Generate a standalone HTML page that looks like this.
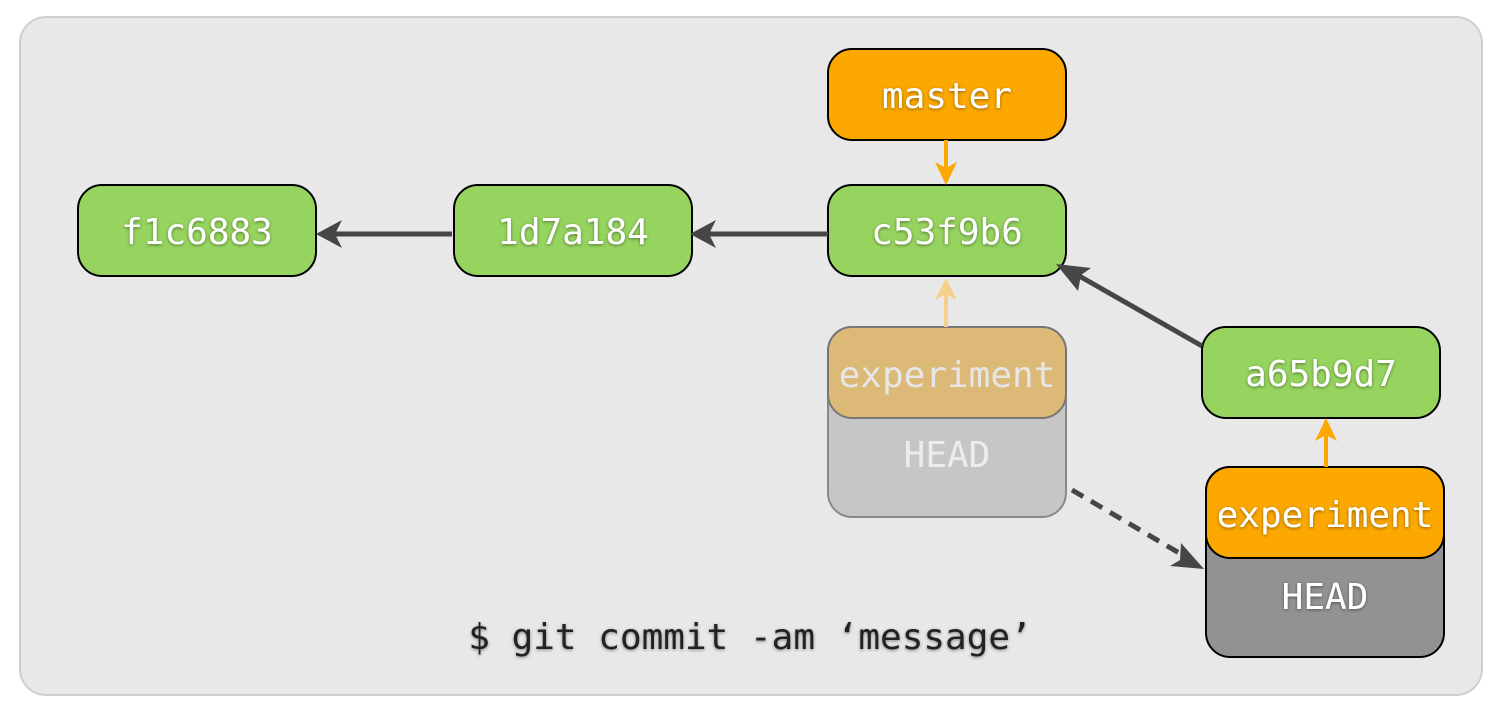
<!DOCTYPE html>
<html><head><style>
html,body{margin:0;padding:0;background:#fff;}
svg{display:block}
text{font-family:"DejaVu Sans Mono","Liberation Mono",monospace;}
.w{fill:#fff;font-size:36px;text-anchor:middle;filter:url(#sh);}
</style></head><body>
<svg width="1502" height="714" viewBox="0 0 1502 714" xmlns="http://www.w3.org/2000/svg">
<defs>
<filter id="sh" x="-20%" y="-20%" width="140%" height="140%"><feDropShadow dx="0" dy="1" stdDeviation="1.5" flood-color="#000" flood-opacity="0.45"/></filter>
</defs>
<rect x="20" y="17" width="1462" height="678" rx="26" fill="#e8e8e8" stroke="#cfcfcf" stroke-width="2"/>

<rect x="78" y="185" width="238" height="91" rx="24" fill="#96d45f" stroke="#000" stroke-width="2"/>
<text class="w" x="197" y="244">f1c6883</text>
<rect x="454" y="185" width="238" height="91" rx="24" fill="#96d45f" stroke="#000" stroke-width="2"/>
<text class="w" x="573" y="244">1d7a184</text>
<rect x="828" y="185" width="238" height="91" rx="24" fill="#96d45f" stroke="#000" stroke-width="2"/>
<text class="w" x="947" y="244">c53f9b6</text>
<rect x="828" y="49" width="238" height="91" rx="24" fill="#fca800" stroke="#000" stroke-width="2"/>
<text class="w" x="947" y="108">master</text>
<rect x="1202" y="327" width="238" height="91" rx="24" fill="#96d45f" stroke="#000" stroke-width="2"/>
<text class="w" x="1321" y="386">a65b9d7</text>

<rect x="828" y="327" width="238" height="190" rx="24" fill="#c6c6c6" stroke="#888" stroke-width="2"/>
<rect x="828" y="327" width="238" height="91" rx="24" fill="#dcb976" stroke="#777" stroke-width="2"/>
<text x="947" y="387" font-size="36" fill="#e6e6e6" text-anchor="middle">experiment</text>
<text x="947" y="467" font-size="36" fill="#ececec" text-anchor="middle">HEAD</text>

<rect x="1206" y="467" width="238" height="190" rx="24" fill="#929292" stroke="#000" stroke-width="2"/>
<rect x="1206" y="467" width="238" height="91" rx="24" fill="#fca800" stroke="#000" stroke-width="2"/>
<text class="w" x="1325" y="527">experiment</text>
<text class="w" x="1325" y="609">HEAD</text>

<line x1="452" y1="234" x2="330" y2="234" stroke="#464646" stroke-width="5"/>
<line x1="828" y1="234" x2="704" y2="234" stroke="#464646" stroke-width="5"/>
<path d="M716,220 L690,234 L716,248 L709,234 Z" fill="#464646"/>
<path d="M342,220 L316,234 L342,248 L335,234 Z" fill="#464646"/>
<line x1="946" y1="140" x2="946" y2="170" stroke="#fca800" stroke-width="4"/>
<path d="M935,162 L946,185 L957,162 L946,168 Z" fill="#fca800"/>
<line x1="946" y1="327" x2="946" y2="292" stroke="#f5d08d" stroke-width="4"/>
<path d="M935,300 L946,278 L957,300 L946,294 Z" fill="#f5d08d"/>
<line x1="1326" y1="467" x2="1326" y2="432" stroke="#fca800" stroke-width="4"/>
<path d="M1315,441 L1326,418 L1337,441 L1326,435 Z" fill="#fca800"/>
<line x1="1202" y1="346" x2="1074" y2="273" stroke="#464646" stroke-width="5"/>
<path d="M1078,291 L1056,264 L1091,268 L1081,275 Z" fill="#464646"/>
<line x1="1072" y1="490" x2="1186" y2="557" stroke="#464646" stroke-width="5" stroke-dasharray="13,9"/>
<path d="M1181,543 L1204,569 L1170,566 L1180,560 Z" fill="#464646"/>

<text x="750" y="649" font-size="36" fill="#222" text-anchor="middle" style="filter:url(#sh)">$ git commit -am ‘message’</text>
</svg>
</body></html>
